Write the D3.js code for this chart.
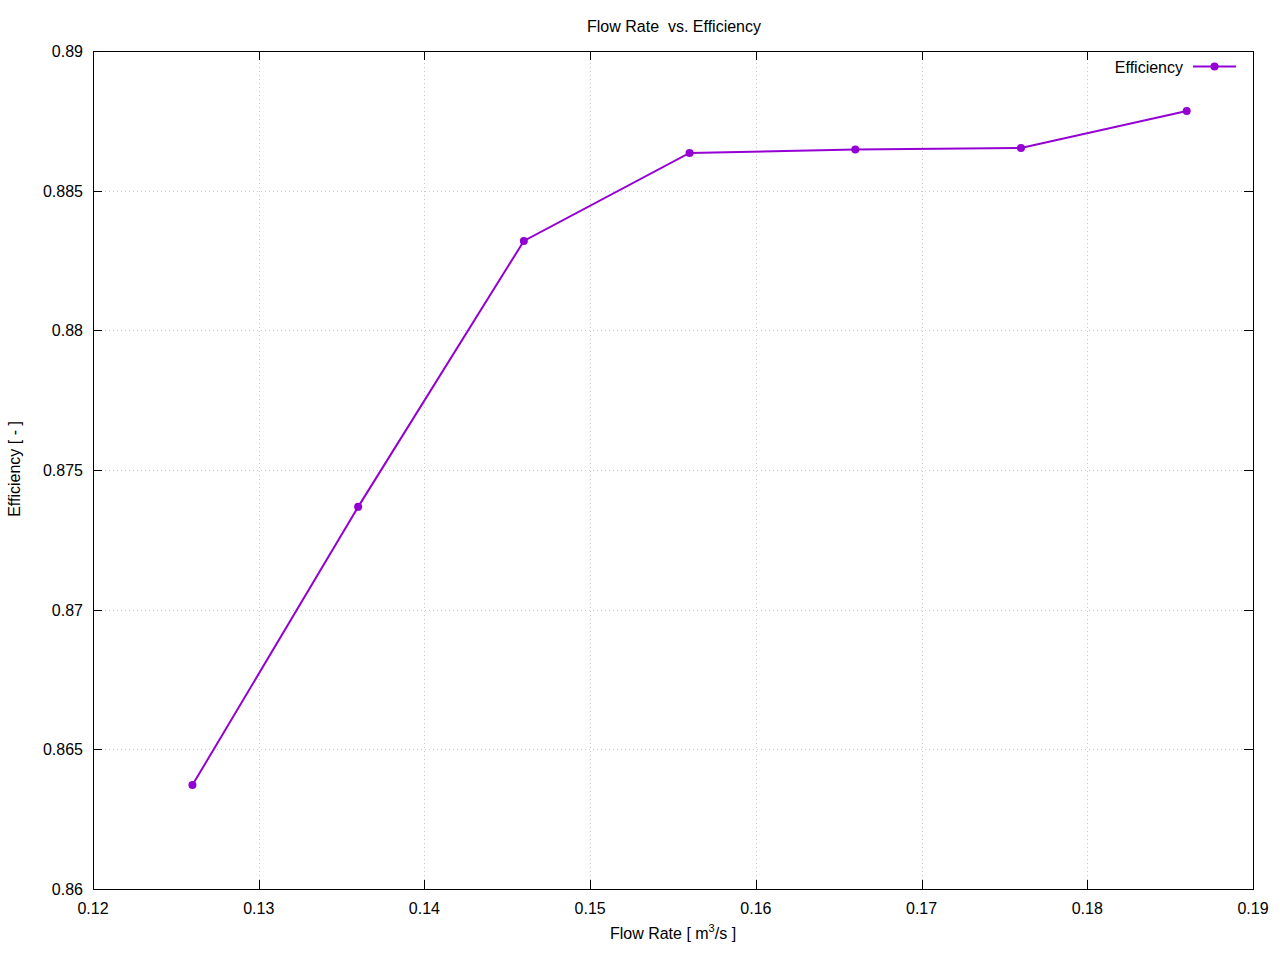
<!DOCTYPE html>
<html><head><meta charset="utf-8">
<script src="https://d3js.org/d3.v7.min.js"></script>
<style>body{margin:0;background:#fff}svg{display:block}text{font-family:"Liberation Sans",Arial,sans-serif;fill:#000}</style>
</head><body><svg id="c" width="1280" height="960"></svg>
<script>
const flowRate = [0.126, 0.136, 0.146, 0.156, 0.166, 0.176, 0.186];
const efficiency = [0.86372, 0.87368, 0.88320, 0.88635, 0.88647, 0.88653, 0.88785];
const xTicks = [0.12, 0.13, 0.14, 0.15, 0.16, 0.17, 0.18, 0.19];
const yTicks = [0.86, 0.865, 0.87, 0.875, 0.88, 0.885, 0.89];
const color = "#9400d3";

const svg = d3.select("#c");
const L = 93, R = 1253, T = 51, B = 889;
const FS = 16;
const x = d3.scaleLinear().domain([0.12, 0.19]).range([L, R]);
const y = d3.scaleLinear().domain([0.86, 0.89]).range([B, T]);

// grid
const g = svg.append("g");
g.selectAll(".gx").data(xTicks.slice(1, -1)).enter().append("line")
  .attr("x1", d => Math.round(x(d)) + 0.5).attr("x2", d => Math.round(x(d)) + 0.5)
  .attr("y1", T).attr("y2", B).attr("stroke", "#c8c8c8").attr("stroke-width", 1).attr("stroke-dasharray", "1,3");
g.selectAll(".gy").data(yTicks.slice(1, -1)).enter().append("line")
  .attr("y1", d => Math.round(y(d)) + 0.5).attr("y2", d => Math.round(y(d)) + 0.5)
  .attr("x1", L).attr("x2", R).attr("stroke", "#c8c8c8").attr("stroke-width", 1).attr("stroke-dasharray", "1,3");

// axes with inward ticks, mirrored
const tk = 9;
const fmt = d => d3.format("")(+d.toFixed(3));
const ax = svg.append("g").attr("stroke", "#000").attr("stroke-width", 1);
xTicks.forEach(d => {
  const px = Math.round(x(d)) + 0.5;
  ax.append("line").attr("x1", px).attr("x2", px).attr("y1", B).attr("y2", B - tk);
  ax.append("line").attr("x1", px).attr("x2", px).attr("y1", T).attr("y2", T + tk);
});
yTicks.forEach(d => {
  const py = Math.round(y(d)) + 0.5;
  ax.append("line").attr("y1", py).attr("y2", py).attr("x1", L).attr("x2", L + tk);
  ax.append("line").attr("y1", py).attr("y2", py).attr("x1", R).attr("x2", R - tk);
});
svg.append("rect").attr("x", L + 0.5).attr("y", T + 0.5).attr("width", R - L).attr("height", B - T)
  .attr("fill", "none").attr("stroke", "#000").attr("stroke-width", 1);

svg.selectAll(".xl").data(xTicks).enter().append("text")
  .attr("x", d => x(d)).attr("y", B + 25).attr("text-anchor", "middle").attr("font-size", FS)
  .text(d => fmt(d));
svg.selectAll(".yl").data(yTicks).enter().append("text")
  .attr("x", L - 10).attr("y", d => y(d) + 6).attr("text-anchor", "end").attr("font-size", FS)
  .text(d => fmt(d));

// title and labels
svg.append("text").attr("x", 674).attr("y", 32).attr("text-anchor", "middle").attr("font-size", FS)
  .attr("xml:space", "preserve").text("Flow Rate  vs. Efficiency");
const xl = svg.append("text").attr("x", 673).attr("y", 939).attr("text-anchor", "middle").attr("font-size", FS);
xl.append("tspan").text("Flow Rate [ m");
xl.append("tspan").attr("dy", -7).attr("font-size", 11).text("3");
xl.append("tspan").attr("dy", 7).text("/s ]");
svg.append("text").attr("transform", "translate(20,469) rotate(-90)").attr("text-anchor", "middle")
  .attr("font-size", FS).text("Efficiency [ - ]");

// line and points
const data = flowRate.map((d, i) => [d, efficiency[i]]);
svg.append("path").datum(data).attr("fill", "none").attr("stroke", color).attr("stroke-width", 2)
  .attr("d", d3.line().x(d => x(d[0])).y(d => y(d[1])));
svg.selectAll(".pt").data(data).enter().append("circle")
  .attr("cx", d => x(d[0])).attr("cy", d => y(d[1])).attr("r", 4).attr("fill", color);

// legend
svg.append("text").attr("x", 1183).attr("y", 73).attr("text-anchor", "end").attr("font-size", FS).text("Efficiency");
svg.append("line").attr("x1", 1193).attr("x2", 1236).attr("y1", 66.5).attr("y2", 66.5).attr("stroke", color).attr("stroke-width", 2);
svg.append("circle").attr("cx", 1214.5).attr("cy", 66.5).attr("r", 4).attr("fill", color);
</script></body></html>
